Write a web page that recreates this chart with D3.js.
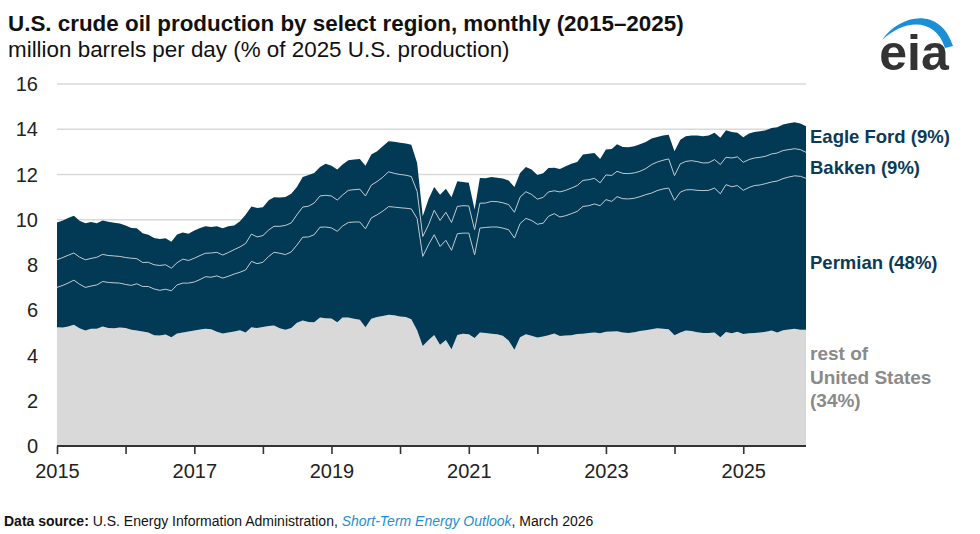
<!DOCTYPE html>
<html>
<head>
<meta charset="utf-8">
<script src="https://cdn.jsdelivr.net/npm/d3@7"></script>
<style>
  html, body { margin: 0; padding: 0; background: #fff; }
  svg { display: block; }
  text { font-family: "Liberation Sans", Arial, Helvetica, sans-serif; }
</style>
</head>
<body>
<svg id="chart" width="980" height="534"></svg>
<script>
// ---- Data (million barrels per day), monthly Jan 2015 – Dec 2025 ----
const startMonth = "2015-01";
const endMonth = "2025-12";

const restOfUS = [
5.25,5.24,5.28,5.36,5.20,5.11,5.18,5.18,5.28,5.22,5.20,5.24,
5.22,5.14,5.10,5.06,5.02,4.90,4.88,4.93,4.81,4.97,5.02,5.06,
5.10,5.15,5.18,5.16,5.05,4.97,5.02,5.06,5.12,5.02,5.25,5.21,
5.26,5.30,5.33,5.20,5.14,5.22,5.45,5.55,5.48,5.47,5.68,5.65,
5.63,5.47,5.68,5.68,5.62,5.58,5.25,5.62,5.70,5.75,5.80,5.78,
5.72,5.70,5.60,5.12,4.42,4.69,4.91,4.47,4.69,4.28,4.91,4.96,
4.94,4.77,5.02,4.99,4.96,4.94,4.87,4.66,4.25,4.81,4.94,4.87,
4.80,4.84,4.90,4.97,4.86,4.88,4.90,4.95,4.96,5.00,5.02,4.98,
5.05,5.06,5.07,5.02,5.00,5.03,5.08,5.12,5.16,5.20,5.18,5.16,
4.90,5.02,5.10,5.08,5.03,5.00,4.99,5.02,4.81,5.04,4.98,5.05,
4.95,4.98,5.00,5.02,5.05,5.10,5.02,5.12,5.15,5.18,5.14,5.14];

const permian = [
1.76,1.86,1.92,1.97,1.95,1.90,1.89,1.94,1.99,2.01,2.01,1.96,
1.92,1.96,2.07,1.99,2.03,2.04,2.00,2.00,2.05,2.15,2.18,2.14,
2.15,2.21,2.30,2.30,2.47,2.45,2.48,2.54,2.56,2.76,2.91,2.85,
2.86,3.08,3.23,3.32,3.32,3.36,3.43,3.68,3.76,3.87,3.99,4.03,
4.01,4.02,4.04,4.20,4.28,4.32,4.35,4.46,4.52,4.63,4.78,4.78,
4.81,4.81,4.88,4.93,3.96,4.21,4.43,4.35,4.40,4.37,4.47,4.45,
4.47,3.68,4.61,4.67,4.72,4.74,4.76,4.90,4.94,5.02,5.12,5.10,
5.00,5.01,5.25,5.30,5.26,5.30,5.37,5.42,5.63,5.62,5.68,5.64,
5.84,5.75,5.95,5.91,5.92,5.92,5.94,5.99,6.02,6.09,6.18,6.24,
5.96,6.20,6.22,6.25,6.27,6.29,6.31,6.38,6.34,6.51,6.48,6.46,
6.35,6.45,6.51,6.52,6.55,6.57,6.69,6.70,6.74,6.76,6.78,6.69];

const bakken = [
1.22,1.23,1.23,1.20,1.20,1.22,1.22,1.22,1.20,1.19,1.19,1.18,
1.19,1.20,1.11,1.06,1.07,1.07,1.10,1.08,1.00,0.98,1.06,1.00,
1.05,1.06,1.04,1.07,1.04,1.02,1.05,1.08,1.12,1.17,1.21,1.18,
1.18,1.17,1.15,1.19,1.29,1.28,1.34,1.33,1.36,1.40,1.38,1.40,
1.41,1.38,1.37,1.42,1.43,1.45,1.45,1.45,1.47,1.50,1.54,1.49,
1.47,1.46,1.43,1.20,0.88,0.88,1.08,1.15,1.24,1.23,1.21,1.21,
1.20,1.11,1.10,1.08,1.13,1.12,1.12,1.11,1.14,1.17,1.18,1.15,
1.11,1.14,1.08,1.01,1.11,1.12,1.13,1.14,1.15,1.15,1.13,1.01,
1.09,1.15,1.12,1.12,1.12,1.12,1.12,1.15,1.26,1.26,1.27,1.29,
1.09,1.25,1.26,1.28,1.27,1.22,1.22,1.26,1.29,1.21,1.27,1.27,
1.24,1.23,1.22,1.22,1.21,1.24,1.24,1.24,1.21,1.20,1.18,1.15];

const eagleFord = [
1.65,1.64,1.65,1.65,1.61,1.62,1.61,1.50,1.50,1.49,1.47,1.45,
1.42,1.33,1.34,1.29,1.22,1.18,1.17,1.17,1.17,1.25,1.18,1.18,
1.22,1.21,1.19,1.15,1.15,1.18,1.16,1.07,1.13,1.27,1.22,1.28,
1.25,1.31,1.28,1.27,1.26,1.29,1.23,1.33,1.38,1.33,1.28,1.40,
1.34,1.35,1.35,1.33,1.33,1.34,1.34,1.35,1.34,1.37,1.35,1.40,
1.40,1.40,1.40,1.26,0.89,1.14,1.03,1.13,1.04,1.12,1.11,1.05,
1.02,0.89,1.12,1.09,1.08,1.06,1.07,1.07,1.12,1.07,1.09,1.10,
1.07,1.07,1.06,1.02,1.01,1.06,1.07,1.04,1.14,1.15,1.12,1.06,
1.12,1.17,1.20,1.17,1.16,1.18,1.20,1.18,1.15,1.11,1.09,1.07,
1.08,1.07,1.11,1.11,1.15,1.18,1.20,1.18,1.18,1.20,1.15,1.06,
1.11,1.15,1.15,1.15,1.15,1.15,1.14,1.15,1.17,1.17,1.15,1.15];

const seriesKeys = ["rest", "permian", "bakken", "eagleFord"];
const seriesLabels = {
  eagleFord: ["Eagle Ford (9%)"],
  bakken: ["Bakken (9%)"],
  permian: ["Permian (48%)"],
  rest: ["rest of", "United States", "(34%)"]
};
const yTicks = [0, 2, 4, 6, 8, 10, 12, 14, 16];
const xLabelYears = [2015, 2017, 2019, 2021, 2023, 2025];

const titleText = "U.S. crude oil production by select region, monthly (2015\u20132025)";
const subtitleText = "million barrels per day (% of 2025 U.S. production)";

// ---- Build table ----
const parseMonth = d3.timeParse("%Y-%m");
const months = d3.timeMonth.range(parseMonth(startMonth), d3.timeMonth.offset(parseMonth(endMonth), 1));
const table = months.map((m, i) => ({
  date: m, rest: restOfUS[i], permian: permian[i], bakken: bakken[i], eagleFord: eagleFord[i]
}));

// ---- Layout ----
const svg = d3.select("#chart");
const plot = { left: 57, right: 806, top: 84, bottom: 446 };
const colors = { rest: "#d9d9d9", permian: "#023a55", bakken: "#023a55", eagleFord: "#023a55" };

const x = d3.scaleTime().domain([months[0], months[months.length - 1]]).range([plot.left, plot.right]);
const y = d3.scaleLinear().domain([0, 16]).range([plot.bottom, plot.top]);

// gridlines
svg.append("g").selectAll("line").data(yTicks.filter(t => t > 0)).join("line")
  .attr("x1", plot.left).attr("x2", plot.right)
  .attr("y1", d => y(d)).attr("y2", d => y(d))
  .attr("stroke", "#d9d9d9").attr("stroke-width", 1.3);

// stacked areas
const stack = d3.stack().keys(seriesKeys);
const layers = stack(table);
const area = d3.area()
  .x(d => x(d.data.date))
  .y0(d => y(d[0]))
  .y1(d => y(d[1]));

svg.append("g").selectAll("path").data(layers).join("path")
  .attr("d", area)
  .attr("fill", d => colors[d.key]);

// separator lines on top of Permian and Bakken
const topLine = d3.line().x(d => x(d.data.date)).y(d => y(d[1]));
svg.append("g").selectAll("path").data(layers.filter(l => l.key === "permian" || l.key === "bakken")).join("path")
  .attr("d", topLine)
  .attr("fill", "none")
  .attr("stroke", "#b9c4cc")
  .attr("stroke-width", 1);

// y tick labels
svg.append("g").selectAll("text").data(yTicks).join("text")
  .attr("x", 38).attr("y", d => y(d) + 7)
  .attr("text-anchor", "end")
  .attr("font-size", 20)
  .attr("fill", "#222")
  .text(d => d);

// x axis
const xAxis = d3.axisBottom(x)
  .ticks(d3.timeYear.every(1))
  .tickSize(8)
  .tickFormat(d => xLabelYears.includes(d.getFullYear()) ? d.getFullYear() : "");
const gx = svg.append("g").attr("transform", `translate(0,${plot.bottom})`).call(xAxis);
gx.select(".domain").attr("stroke", "#333").attr("stroke-width", 2.2)
  .attr("d", `M${plot.left},0H${plot.right}`);
gx.selectAll(".tick line").attr("stroke", "#333").attr("stroke-width", 1.6);
gx.selectAll(".tick text").attr("font-size", 20).attr("fill", "#222")
  .attr("font-family", "Liberation Sans, Arial, sans-serif").attr("dy", "1.05em");

// series labels on the right
const labelPos = { eagleFord: 143, bakken: 174, permian: 269, rest: 360 };
Object.keys(labelPos).forEach(k => {
  const t = svg.append("text")
    .attr("x", 810).attr("y", labelPos[k])
    .attr("font-size", k === "rest" ? 19 : 18.5).attr("font-weight", "bold")
    .attr("fill", k === "rest" ? "#8a8a8a" : "#0b3a57");
  seriesLabels[k].forEach((line, j) => {
    t.append("tspan").attr("x", 810).attr("dy", j === 0 ? 0 : 23.5).text(line);
  });
});

// title & subtitle
svg.append("text").attr("x", 8).attr("y", 31)
  .attr("font-size", 22.4).attr("font-weight", "bold").attr("fill", "#111")
  .text(titleText);
svg.append("text").attr("x", 8).attr("y", 57)
  .attr("font-size", 22.4).attr("fill", "#111")
  .text(subtitleText);

// eia logo
const logo = svg.append("g");
logo.append("path")
  .attr("d", "M882,40 C900,14 940,6 953,46 L945,48 C936,18 905,18 882,40 Z")
  .attr("fill", "#1a8fd6");
logo.append("text").attr("x", 914).attr("y", 70)
  .attr("text-anchor", "middle")
  .attr("font-family", "'Liberation Sans Narrow', 'Arial Narrow', 'Liberation Sans', sans-serif")
  .attr("font-size", 50).attr("font-weight", "bold").attr("fill", "#333")
  .text("eia");

// footer
const foot = svg.append("text").attr("x", 4).attr("y", 526)
  .attr("font-size", 14).attr("fill", "#111")
  .attr("font-family", "'Liberation Sans Narrow', 'Arial Narrow', 'Liberation Sans', sans-serif");
foot.append("tspan").attr("font-weight", "bold").text("Data source: ");
foot.append("tspan").text("U.S. Energy Information Administration, ");
foot.append("tspan").attr("font-style", "italic").attr("fill", "#1f8fd0").text("Short-Term Energy Outlook");
foot.append("tspan").text(", March 2026");
</script>
</body>
</html>
